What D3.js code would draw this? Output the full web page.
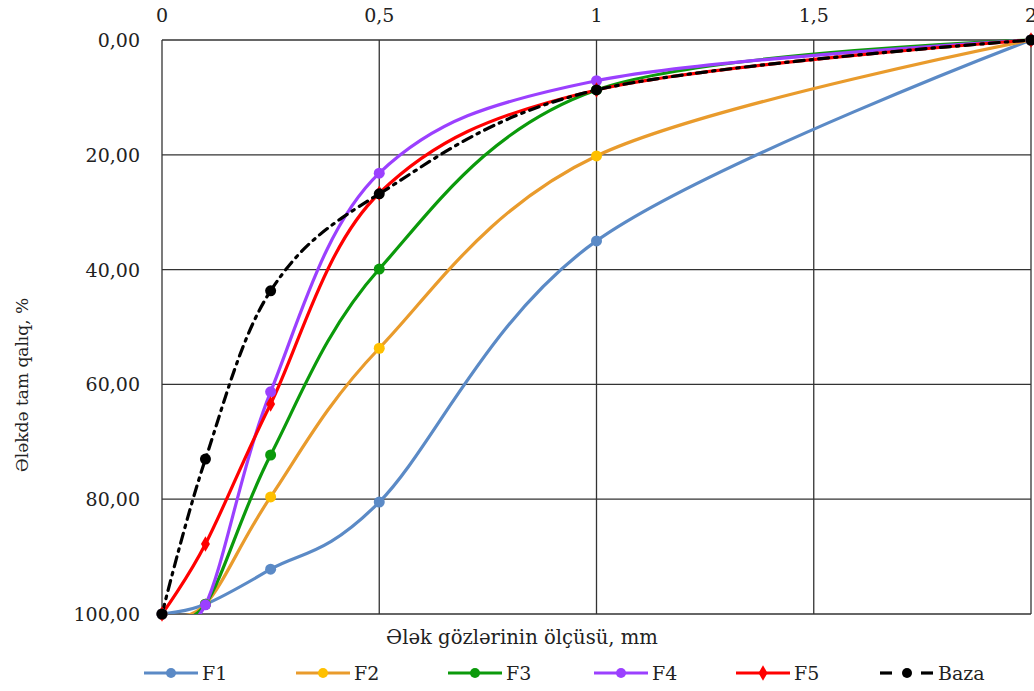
<!DOCTYPE html>
<html><head><meta charset="utf-8">
<script src="https://cdn.jsdelivr.net/npm/d3@7"></script>
<style>body{margin:0;background:#fff}svg{display:block}</style>
</head><body><svg id="c" width="1034" height="691"></svg>
<script>
const sieve = [0, 0.1, 0.25, 0.5, 1, 2];
const F1 = [100, 98.3, 92.2, 80.5, 35.0, 0];
const F2 = [100, 98.3, 79.6, 53.7, 20.2, 0];
const F3 = [100, 98.3, 72.3, 39.9, 8.7, 0];
const F4 = [100, 98.4, 61.3, 23.2, 7.1, 0];
const F5 = [100, 87.8, 63.4, 26.7, 8.7, 0];
const Baza = [100, 73.0, 43.7, 26.8, 8.7, 0];
const seriesNames = ["F1", "F2", "F3", "F4", "F5", "Baza"];
const xTicks = [0, 0.5, 1, 1.5, 2];
const yTicks = [0, 20, 40, 60, 80, 100];

const FONT = "'DejaVu Serif', serif";

const series = [
  {name: "F1", vals: F1, line: "#5b8ac6", mark: "#5b8ac6", shape: "circle"},
  {name: "F2", vals: F2, line: "#e99b2c", mark: "#ffc000", shape: "circle"},
  {name: "F3", vals: F3, line: "#0b9a0b", mark: "#0b9a0b", shape: "circle"},
  {name: "F4", vals: F4, line: "#9b40ff", mark: "#9b40ff", shape: "circle"},
  {name: "F5", vals: F5, line: "#ff0000", mark: "#ff0000", shape: "diamond"},
  {name: "Baza", vals: Baza, line: "#000", mark: "#000", shape: "circle", dash: "10,6,2.5,6"}
];

const svg = d3.select("#c");
const x = d3.scaleLinear().domain([0, 2]).range([162, 1031]);
const y = d3.scaleLinear().domain([0, 100]).range([40, 614]);
const fmtY = d => d3.format(".2f")(d).replace(".", ",");
const fmtX = d => String(d).replace(".", ",");

function txt(sel, fs) { return sel.attr("font-family", FONT).attr("fill", "#222").attr("font-size", fs || 19); }

// grid
const g = svg.append("g");
g.selectAll("line.h").data(yTicks).join("line")
  .attr("x1", x(0)).attr("x2", x(2)).attr("y1", d => y(d)).attr("y2", d => y(d))
  .attr("stroke", "#333").attr("stroke-width", 1.3);
g.selectAll("line.v").data(xTicks).join("line")
  .attr("y1", y(0)).attr("y2", y(100)).attr("x1", d => x(d)).attr("x2", d => x(d))
  .attr("stroke", "#333").attr("stroke-width", 1.3);

// tick labels
txt(svg.append("g").selectAll("text").data(yTicks).join("text")
  .attr("x", 140).attr("y", d => y(d) + 7).attr("text-anchor", "end")).text(fmtY);
txt(svg.append("g").selectAll("text").data(xTicks).join("text")
  .attr("x", d => x(d)).attr("y", 22).attr("text-anchor", "middle")).text(fmtX);

// axis titles
txt(svg.append("text").attr("x", 522).attr("y", 644).attr("text-anchor", "middle"), 19.6)
  .text("Ələk gözlərinin ölçüsü, mm");
txt(svg.append("text").attr("transform", "translate(28,385) rotate(-90)").attr("text-anchor", "middle"), 17)
  .text("Ələkdə tam qalıq, %");

svg.append("clipPath").attr("id", "clip").append("rect")
  .attr("x", x(0) - 8).attr("y", y(0) - 8).attr("width", x(2) - x(0) + 16).attr("height", y(100) - y(0) + 8);

const line = d3.line().x((d, i) => x(sieve[i])).y(d => y(d)).curve(d3.curveCardinal.tension(0));
const plot = svg.append("g").attr("clip-path", "url(#clip)");
const diamond = d3.symbol().type(d3.symbolDiamond).size(70);

series.forEach(s => {
  plot.append("path").attr("d", line(s.vals)).attr("fill", "none")
    .attr("stroke", s.line).attr("stroke-width", 3.2)
    .attr("stroke-dasharray", s.dash || null).attr("stroke-linecap", s.dash ? "round" : "butt");
});
series.forEach(s => {
  const gs = svg.append("g");
  s.vals.forEach((v, i) => {
    if (s.shape === "diamond") {
      gs.append("path").attr("d", diamond).attr("transform", `translate(${x(sieve[i])},${y(v)})`).attr("fill", s.mark);
    } else {
      gs.append("circle").attr("cx", x(sieve[i])).attr("cy", y(v)).attr("r", 5.5).attr("fill", s.mark);
    }
  });
});

// legend
const legX = [144, 296, 448, 594, 736, 880];
const lg = svg.append("g");
series.forEach((s, k) => {
  const x0 = legX[k], yy = 673;
  if (s.dash) {
    lg.append("line").attr("x1", x0).attr("x2", x0 + 12).attr("y1", yy).attr("y2", yy).attr("stroke", "#000").attr("stroke-width", 3.2);
    lg.append("line").attr("x1", x0 + 41).attr("x2", x0 + 53).attr("y1", yy).attr("y2", yy).attr("stroke", "#000").attr("stroke-width", 3.2);
  } else {
    lg.append("line").attr("x1", x0).attr("x2", x0 + 54).attr("y1", yy).attr("y2", yy).attr("stroke", s.line).attr("stroke-width", 3.2);
  }
  if (s.shape === "diamond") {
    lg.append("path").attr("d", diamond).attr("transform", `translate(${x0 + 27},${yy})`).attr("fill", s.mark);
  } else {
    lg.append("circle").attr("cx", x0 + 27).attr("cy", yy).attr("r", 5).attr("fill", s.mark);
  }
  txt(lg.append("text").attr("x", x0 + 58).attr("y", yy + 7)).text(s.name);
});
</script></body></html>
